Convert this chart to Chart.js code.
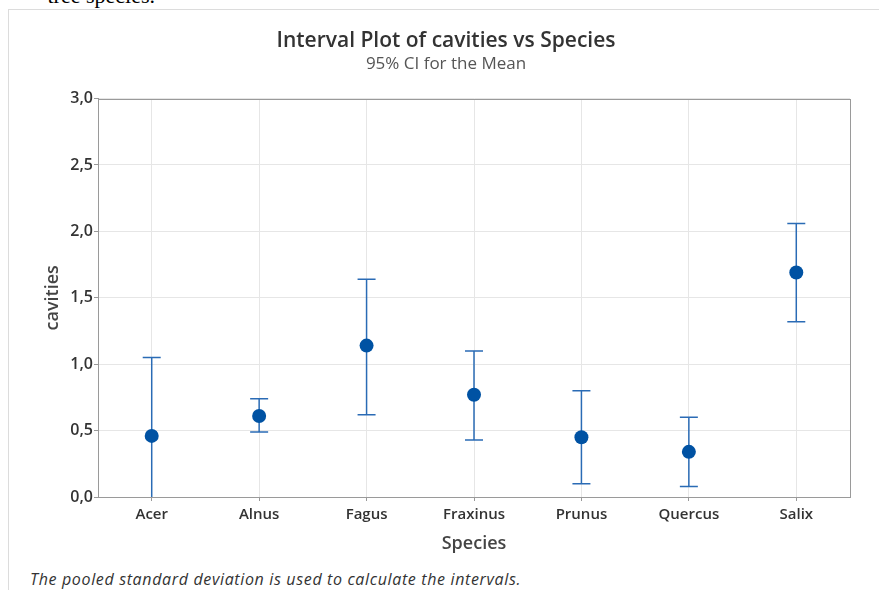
<!DOCTYPE html>
<html>
<head>
<meta charset="utf-8">
<script src="https://cdn.jsdelivr.net/npm/chart.js@4/dist/chart.umd.min.js"></script>
<style>
    html, body { margin: 0; padding: 0; background: #fff; }
    body { width: 879px; height: 590px; position: relative; overflow: hidden; }
    #docText { position: absolute; right: 724px; top: -15px; font: 22px/22px "Liberation Serif", serif; color: #000; white-space: nowrap; }
    #panel { position: absolute; left: 8px; top: 9px; width: 871px; height: 581px; border-left: 1px solid #dcdcdc; border-top: 1px solid #dcdcdc; box-sizing: border-box; }
    #chartBox { position: absolute; left: 0; top: 0; width: 870px; height: 545px; }
    #footnote { position: absolute; left: 21px; top: 558px; font: italic 16px "Open Sans", sans-serif; letter-spacing: 0.65px; color: #333; white-space: nowrap; }
</style>
</head>
<body>
<div id="docText">tree species.</div>
<div id="panel">
    <div id="chartBox"><canvas id="intervalChart"></canvas></div>
    <div id="footnote">The pooled standard deviation is used to calculate the intervals.</div>
</div>
<script>
// data
var species = ['Acer', 'Alnus', 'Fagus', 'Fraxinus', 'Prunus', 'Quercus', 'Salix'];
var means = [0.46, 0.61, 1.14, 0.77, 0.45, 0.34, 1.69];
var lowerCI = [-0.14, 0.49, 0.62, 0.43, 0.10, 0.08, 1.32];
var upperCI = [1.05, 0.74, 1.64, 1.10, 0.80, 0.60, 2.06];
var yTicks = [0, 0.5, 1.0, 1.5, 2.0, 2.5, 3.0];

var fontFamily = '"Open Sans", sans-serif';

// whiskers + caps, clipped to the plot area
var errorBars = {
    id: 'errorBars',
    beforeDatasetsDraw: function(chart) {
        var ctx = chart.ctx, area = chart.chartArea;
        var xs = chart.scales.x, ys = chart.scales.y;
        ctx.save();
        ctx.beginPath();
        ctx.rect(area.left, area.top, area.right - area.left, area.bottom - area.top);
        ctx.clip();
        ctx.strokeStyle = '#2a6bb5';
        ctx.lineWidth = 1.5;
        for (var i = 0; i < species.length; i++) {
            var x = xs.getPixelForValue(i);
            var yl = ys.getPixelForValue(lowerCI[i]);
            var yu = ys.getPixelForValue(upperCI[i]);
            ctx.beginPath();
            ctx.moveTo(x, yl);
            ctx.lineTo(x, yu);
            ctx.moveTo(x - 9, yu);
            ctx.lineTo(x + 9, yu);
            ctx.moveTo(x - 9, yl);
            ctx.lineTo(x + 9, yl);
            ctx.stroke();
        }
        ctx.restore();
    }
};

// box round the plot area
var plotFrame = {
    id: 'plotFrame',
    afterDraw: function(chart) {
        var ctx = chart.ctx, a = chart.chartArea;
        ctx.save();
        ctx.strokeStyle = '#9a9a9a';
        ctx.lineWidth = 1;
        ctx.strokeRect(Math.round(a.left) + 0.5, Math.round(a.top) + 0.5,
                       Math.round(a.right - a.left), Math.round(a.bottom - a.top));
        ctx.restore();
    }
};

new Chart(document.getElementById('intervalChart'), {
    type: 'line',
    data: {
        labels: species,
        datasets: [{
            label: 'Mean',
            data: means,
            showLine: false,
            pointStyle: 'circle',
            pointRadius: 7,
            pointHoverRadius: 7,
            backgroundColor: '#0052a3',
            borderColor: '#0052a3',
            borderWidth: 0
        }]
    },
    options: {
        responsive: true,
        maintainAspectRatio: false,
        animation: false,
        layout: { padding: { left: 33, right: 29, top: 13, bottom: 0 } },
        plugins: {
            legend: { display: false },
            tooltip: { enabled: false },
            title: {
                display: true,
                text: 'Interval Plot of cavities vs Species',
                color: '#333',
                font: { family: fontFamily, size: 21, weight: '600' },
                padding: { top: 5, bottom: 0 }
            },
            subtitle: {
                display: true,
                text: '95% CI for the Mean',
                color: '#555',
                font: { family: fontFamily, size: 17, weight: 'normal' },
                padding: { top: 1, bottom: 24 }
            }
        },
        scales: {
            x: {
                type: 'category',
                offset: true,
                grid: { color: '#e6e6e6', tickColor: '#999', tickLength: 4, offset: false },
                border: { color: '#9a9a9a' },
                ticks: { color: '#333', padding: 5, font: { family: fontFamily, size: 15, weight: '600' } },
                title: { display: true, text: 'Species', color: '#444', font: { family: fontFamily, size: 18, weight: '600' }, padding: 0 },
                afterFit: function(scale) { scale.height = 58; }
            },
            y: {
                min: 0,
                max: 3,
                afterBuildTicks: function(scale) {
                    scale.ticks = yTicks.map(function(v) { return { value: v }; });
                },
                grid: { color: '#e6e6e6', tickColor: '#999', tickLength: 4 },
                border: { color: '#9a9a9a' },
                ticks: {
                    color: '#333',
                    padding: 1,
                    font: { family: fontFamily, size: 16, weight: '600' },
                    callback: function(v) { return Number(v).toFixed(1).replace('.', ','); }
                },
                title: { display: true, text: 'cavities', color: '#444', font: { family: fontFamily, size: 18, weight: '600' }, padding: 0 },
                afterFit: function(scale) { scale.width = 56; }
            }
        }
    },
    plugins: [errorBars, plotFrame]
});
</script>
</body>
</html>
